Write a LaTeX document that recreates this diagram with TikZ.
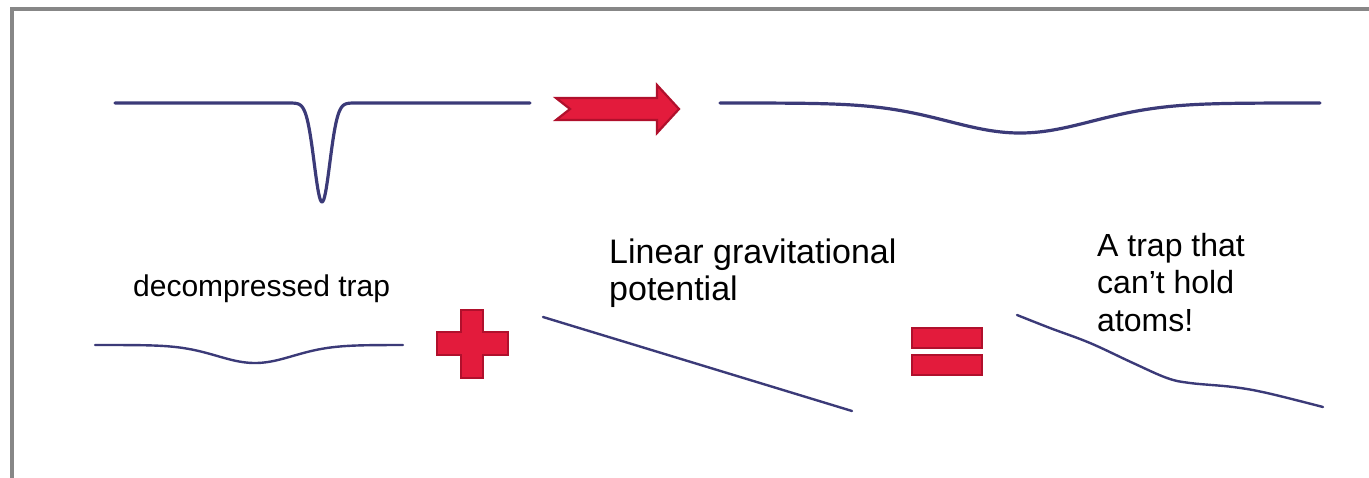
\documentclass[tikz,border=0pt]{standalone}
\usepackage{fontspec}
\setmainfont{Liberation Sans}
\definecolor{curvecol}{HTML}{3B3A78}
\definecolor{redfill}{HTML}{E31B3C}
\definecolor{redline}{HTML}{B0102C}
\definecolor{framecol}{HTML}{878787}
\tikzset{
  curve/.style={draw=curvecol, line width=3.2pt, line cap=round, line join=round},
  thincurve/.style={draw=curvecol, line width=2.4pt, line cap=round, line join=round},
  redshape/.style={fill=redfill, draw=redline, line width=2.2pt},
  label/.style={text=black, inner sep=0pt, align=left},
}
\begin{document}
\begin{tikzpicture}[x=1pt,y=-1pt]
\useasboundingbox (0,0) rectangle (1369,477);
% frame
\draw[framecol, line width=4pt] (12,480) -- (12,9) -- (1372,9);
% top-left narrow trap
\draw[curve] plot[domain=115:530, samples=500] (\x, {103+99*exp(-(((\x-322)/7.8)^2)/2)});
% arrow
\draw[redshape] (556,98) -- (657,98) -- (657,85) -- (679,109) -- (657,133) -- (657,120) -- (556,120) -- (570,109) -- cycle;
% top-right decompressed trap
\draw[curve] plot[domain=720:1320, samples=300] (\x, {103+30*exp(-(((\x-1020)/72)^2)/2)});
% bottom-left decompressed trap
\draw[thincurve] plot[domain=95:403, samples=200] (\x, {345+18*exp(-(((\x-255)/38)^2)/2)});
% plus
\draw[redshape] (461,310) -- (483,310) -- (483,332) -- (508,332) -- (508,355) -- (483,355) -- (483,378) -- (461,378) -- (461,355) -- (437,355) -- (437,332) -- (461,332) -- cycle;
% linear potential
\draw[thincurve] (543,317) -- (852,411);
% equals
\draw[redshape] (912,328) rectangle (982,348);
\draw[redshape] (912,355) rectangle (982,375);
% resulting potential
\draw[thincurve] plot[smooth, tension=0.6] coordinates {(1017,315) (1050,328) (1090,343) (1133,363) (1167,378) (1190,383) (1233,387) (1267,393) (1323,407)};
% labels
\node[label, font=\fontsize{30}{36}\selectfont, anchor=base west] (decomp) at (133,296) {decompressed trap};
\node[label, font=\fontsize{34}{37}\selectfont, anchor=base west] (lin1) at (609,263) {Linear gravitational};
\node[label, font=\fontsize{34}{37}\selectfont, anchor=base west] (lin2) at (609,300) {potential};
\node[label, font=\fontsize{32}{37}\selectfont, anchor=base west] (res1) at (1097,256) {A trap that};
\node[label, font=\fontsize{32}{37}\selectfont, anchor=base west] (res2) at (1097,293) {can’t hold};
\node[label, font=\fontsize{32}{37}\selectfont, anchor=base west] (res3) at (1097,331) {atoms!};
\end{tikzpicture}
\end{document}
